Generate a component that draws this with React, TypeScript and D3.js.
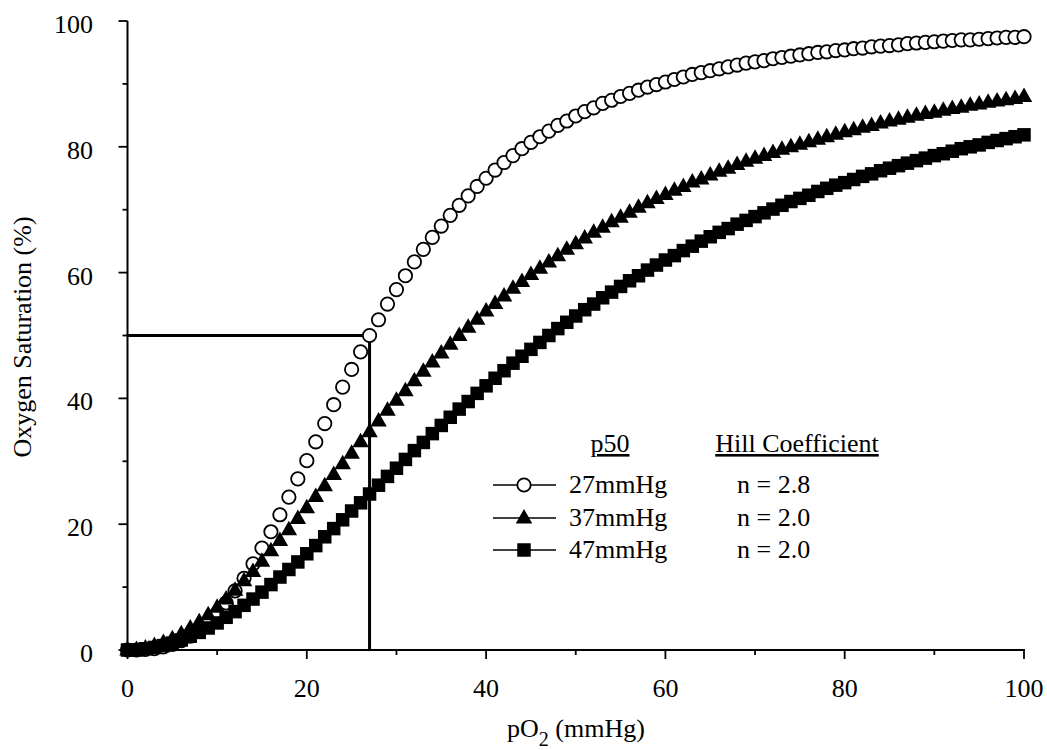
import React from "react";
import * as d3 from "d3";

const pO2: number[] = d3.range(0, 101);

const satP27: number[] = [
  0.0, 0.0, 0.1, 0.2, 0.5, 0.9, 1.5, 2.2, 3.2, 4.4,
  5.8, 7.5, 9.4, 11.4, 13.7, 16.2, 18.8, 21.5, 24.3, 27.2,
  30.1, 33.1, 36.0, 39.0, 41.8, 44.6, 47.4, 50.0, 52.5, 55.0,
  57.3, 59.5, 61.7, 63.7, 65.6, 67.4, 69.1, 70.7, 72.2, 73.7,
  75.0, 76.3, 77.5, 78.6, 79.7, 80.7, 81.6, 82.5, 83.4, 84.1,
  84.9, 85.6, 86.2, 86.9, 87.4, 88.0, 88.5, 89.0, 89.5, 89.9,
  90.3, 90.7, 91.1, 91.5, 91.8, 92.1, 92.4, 92.7, 93.0, 93.3,
  93.5, 93.7, 94.0, 94.2, 94.4, 94.6, 94.8, 95.0, 95.1, 95.3,
  95.4, 95.6, 95.7, 95.9, 96.0, 96.1, 96.2, 96.4, 96.5, 96.6,
  96.7, 96.8, 96.9, 97.0, 97.0, 97.1, 97.2, 97.3, 97.4, 97.4,
  97.5,
];

const satP37: number[] = [
  0.0, 0.1, 0.3, 0.7, 1.2, 1.8, 2.6, 3.5, 4.5, 5.6,
  6.8, 8.1, 9.5, 11.0, 12.5, 14.1, 15.8, 17.4, 19.1, 20.9,
  22.6, 24.4, 26.1, 27.9, 29.6, 31.3, 33.1, 34.7, 36.4, 38.1,
  39.7, 41.2, 42.8, 44.3, 45.8, 47.2, 48.6, 50.0, 51.3, 52.6,
  53.9, 55.1, 56.3, 57.5, 58.6, 59.7, 60.7, 61.7, 62.7, 63.7,
  64.6, 65.5, 66.4, 67.2, 68.1, 68.8, 69.6, 70.4, 71.1, 71.8,
  72.4, 73.1, 73.7, 74.4, 74.9, 75.5, 76.1, 76.6, 77.2, 77.7,
  78.2, 78.6, 79.1, 79.6, 80.0, 80.4, 80.8, 81.2, 81.6, 82.0,
  82.4, 82.7, 83.1, 83.4, 83.8, 84.1, 84.4, 84.7, 85.0, 85.3,
  85.5, 85.8, 86.1, 86.3, 86.6, 86.8, 87.1, 87.3, 87.5, 87.7,
  88.0,
];

const satP47: number[] = [
  0.0, 0.0, 0.2, 0.4, 0.7, 1.1, 1.6, 2.2, 2.8, 3.5,
  4.3, 5.2, 6.1, 7.1, 8.1, 9.2, 10.4, 11.6, 12.8, 14.0,
  15.3, 16.6, 18.0, 19.3, 20.7, 22.1, 23.4, 24.8, 26.2, 27.6,
  28.9, 30.3, 31.7, 33.0, 34.4, 35.7, 37.0, 38.3, 39.5, 40.8,
  42.0, 43.2, 44.4, 45.6, 46.7, 47.8, 48.9, 50.0, 51.1, 52.1,
  53.1, 54.1, 55.0, 56.0, 56.9, 57.8, 58.7, 59.5, 60.4, 61.2,
  62.0, 62.7, 63.5, 64.2, 65.0, 65.7, 66.4, 67.0, 67.7, 68.3,
  68.9, 69.5, 70.1, 70.7, 71.3, 71.8, 72.3, 72.9, 73.4, 73.9,
  74.3, 74.8, 75.3, 75.7, 76.2, 76.6, 77.0, 77.4, 77.8, 78.2,
  78.6, 78.9, 79.3, 79.7, 80.0, 80.3, 80.7, 81.0, 81.3, 81.6,
  81.9,
];

const xMajorTicks: number[] = [0, 20, 40, 60, 80, 100];
const xMinorTicks: number[] = [10, 30, 50, 70, 90];
const yMajorTicks: number[] = [0, 20, 40, 60, 80, 100];
const yMinorTicks: number[] = [10, 30, 50, 70, 90];

const p50Marker = { x: 27, y: 50 };

const legendP50: string[] = ["27mmHg", "37mmHg", "47mmHg"];
const legendHill: string[] = ["n = 2.8", "n = 2.0", "n = 2.0"];
const legendMarkers: string[] = ["circle", "triangle", "square"];

const FONT = "'Liberation Serif', 'Times New Roman', serif";
const FS = 26;

function Marker({ kind, cx, cy }: { kind: string; cx: number; cy: number }) {
  if (kind === "circle") {
    return <circle cx={cx} cy={cy} r={6.7} fill="#fff" stroke="#000" strokeWidth={1.8} />;
  }
  if (kind === "triangle") {
    const w = 16.5, h = 14.5;
    const pts = `${cx},${cy - h * 0.62} ${cx - w / 2},${cy + h * 0.38} ${cx + w / 2},${cy + h * 0.38}`;
    return <polygon points={pts} fill="#000" />;
  }
  const s = 13.5;
  return <rect x={cx - s / 2} y={cy - s / 2} width={s} height={s} fill="#000" />;
}

export default function App() {
  const x = d3.scaleLinear().domain([0, 100]).range([127.5, 1024]);
  const y = d3.scaleLinear().domain([0, 100]).range([650, 21]);

  const series = [
    { kind: "circle", values: satP27 },
    { kind: "triangle", values: satP37 },
    { kind: "square", values: satP47 },
  ];

  const legendRowY = [485, 518, 550];

  return (
    <svg
      width={1047}
      height={750}
      style={{ position: "absolute", left: 0, top: 0, background: "#fff" }}
      fontFamily={FONT}
    >
      <rect x={0} y={0} width={1047} height={750} fill="#fff" />

      {/* p50 reference lines */}
      <path
        d={`M${x(0)},${y(p50Marker.y)} H${x(p50Marker.x)} V${y(0)}`}
        fill="none"
        stroke="#000"
        strokeWidth={3}
      />

      {/* data markers */}
      {series.map((s) => (
        <g key={s.kind}>
          {s.values.map((v, i) => (
            <Marker key={i} kind={s.kind} cx={x(pO2[i])} cy={y(v)} />
          ))}
        </g>
      ))}

      {/* axes */}
      <line x1={x(0)} x2={x(100) + 1} y1={y(0)} y2={y(0)} stroke="#000" strokeWidth={2} />
      <line x1={x(0)} x2={x(0)} y1={y(0)} y2={y(100)} stroke="#000" strokeWidth={2} />
      {xMajorTicks.map((t) => (
        <g key={"xM" + t}>
          <line x1={x(t)} x2={x(t)} y1={y(0)} y2={y(0) + 9} stroke="#000" strokeWidth={1.8} />
          <text x={x(t)} y={697} textAnchor="middle" fontSize={FS}>
            {t}
          </text>
        </g>
      ))}
      {xMinorTicks.map((t) => (
        <line key={"xm" + t} x1={x(t)} x2={x(t)} y1={y(0)} y2={y(0) + 5} stroke="#000" strokeWidth={1.8} />
      ))}
      {yMajorTicks.map((t) => (
        <g key={"yM" + t}>
          <line x1={x(0) - 9} x2={x(0)} y1={y(t)} y2={y(t)} stroke="#000" strokeWidth={1.8} />
          <text x={93} y={y(t) + 12} textAnchor="end" fontSize={FS}>
            {t}
          </text>
        </g>
      ))}
      {yMinorTicks.map((t) => (
        <line key={"ym" + t} x1={x(0) - 5} x2={x(0)} y1={y(t)} y2={y(t)} stroke="#000" strokeWidth={1.8} />
      ))}

      {/* axis titles */}
      <text x={576} y={737} textAnchor="middle" fontSize={FS}>
        pO
        <tspan fontSize={20} dy={9}>2</tspan>
        <tspan dy={-9}> (mmHg)</tspan>
      </text>
      <text
        transform={`translate(31,${337}) rotate(-90)`}
        textAnchor="middle"
        fontSize={FS}
      >
        Oxygen Saturation (%)
      </text>

      {/* legend */}
      <text x={610} y={452} textAnchor="middle" fontSize={FS} textDecoration="underline">
        p50
      </text>
      <text x={797} y={452} textAnchor="middle" fontSize={FS} textDecoration="underline">
        Hill Coefficient
      </text>
      {legendP50.map((label, i) => (
        <g key={label + i}>
          <line x1={493} x2={556} y1={legendRowY[i]} y2={legendRowY[i]} stroke="#000" strokeWidth={1.6} />
          <Marker kind={legendMarkers[i]} cx={524} cy={legendRowY[i]} />
          <text x={569} y={legendRowY[i] + 8} fontSize={FS}>
            {label}
          </text>
          <text x={737} y={legendRowY[i] + 8} fontSize={FS}>
            {legendHill[i]}
          </text>
        </g>
      ))}
    </svg>
  );
}
